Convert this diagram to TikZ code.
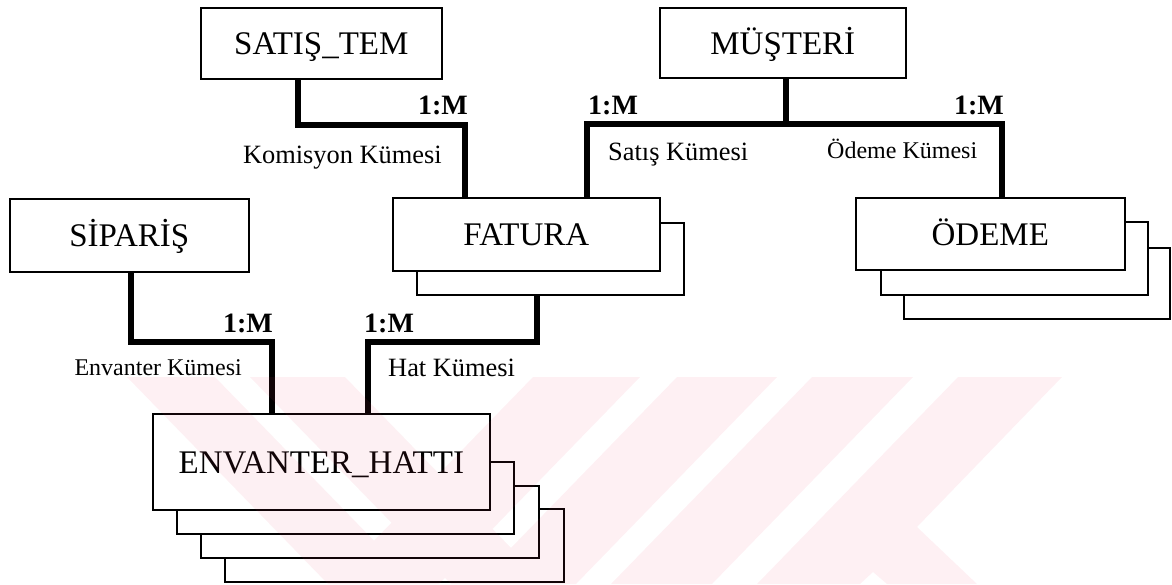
\documentclass[tikz,border=0pt]{standalone}
\usepackage{fontspec}
\setmainfont{Liberation Serif}
\begin{document}
\begin{tikzpicture}[x=1pt,y=-1pt,
  ent/.style={draw, line width=1.6pt, fill=white, rectangle, inner sep=0pt,
    anchor=north west, font=\fontsize{33}{33}\selectfont,
    text height=23pt, text depth=0pt},
  conn/.style={line width=6pt, line join=miter},
  card/.style={font=\bfseries\fontsize{28}{28}\selectfont, inner sep=0pt},
  role/.style={font=\fontsize{26.4}{26}\selectfont, inner sep=0pt},
  rolesmall/.style={font=\fontsize{24}{24}\selectfont, inner sep=0pt},
  wm/.style={fill={rgb,255:red,236;green,60;blue,100}, fill opacity=0.075}
]
\useasboundingbox (0,0) rectangle (1172,584);

% entities
\node[ent, minimum width=241pt, minimum height=71pt] (satis) at (200,7) {SATIŞ\_TEM};
\node[ent, minimum width=246pt, minimum height=70pt] (musteri) at (659,7) {MÜŞTERİ};
\node[ent, minimum width=239pt, minimum height=73pt] (siparis) at (9,198) {SİPARİŞ};

% FATURA stack
\node[ent, minimum width=267pt, minimum height=72pt] (faturaB) at (416,222) {};
\node[ent, minimum width=267pt, minimum height=73pt] (fatura) at (392,197) {FATURA};

% ÖDEME stack
\node[ent, minimum width=266pt, minimum height=71pt] (odemeC) at (903,247) {};
\node[ent, minimum width=267pt, minimum height=73pt] (odemeB) at (880,221) {};
\node[ent, minimum width=269pt, minimum height=72pt] (odeme) at (855,197) {ÖDEME};

% ENVANTER_HATTI stack
\node[ent, minimum width=339pt, minimum height=73pt] (envD) at (224,508) {};
\node[ent, minimum width=338pt, minimum height=72pt] (envC) at (200,485) {};
\node[ent, minimum width=337pt, minimum height=72pt] (envB) at (176,461) {};
\node[ent, minimum width=337pt, minimum height=96pt] (env) at (152,413) {ENVANTER\_HATTI};

% bend points of the relationship lines
\coordinate (k1) at (298,125);
\coordinate (k2) at (465,125);
\coordinate (m0) at (786,124);
\coordinate (m1) at (587,124);
\coordinate (m2) at (1002,124);
\coordinate (s1) at (131,342);
\coordinate (s2) at (272,342);
\coordinate (h1) at (537,342);
\coordinate (h2) at (368,342);

% relationships
\draw[conn] (satis.south -| k1) -- (k1) -- (k2) -- (k2 |- fatura.north);
\draw[conn] (musteri.south -| m0) -- (m0);
\draw[conn] (m1 |- fatura.north) -- (m1) -- (m2) -- (m2 |- odeme.north);
\draw[conn] (siparis.south -| s1) -- (s1) -- (s2) -- (s2 |- env.north);
\draw[conn] (faturaB.south -| h1) -- (h1) -- (h2) -- (h2 |- env.north);

% cardinalities
\node[card, anchor=base east] (c1) at (468,114) {1:M};
\node[card, anchor=base west] (c2) at (588,114) {1:M};
\node[card, anchor=base east] (c3) at (1004,114) {1:M};
\node[card, anchor=base east] (c4) at (273,332) {1:M};
\node[card, anchor=base west] (c5) at (364,332) {1:M};

% role names
\node[role, anchor=base east] (r1) at (442,163) {Komisyon Kümesi};
\node[role, anchor=base west] (r2) at (608,160) {Satış Kümesi};
\node[rolesmall, anchor=base west] (r3) at (827,158) {Ödeme Kümesi};
\node[rolesmall, anchor=base east] (r4) at (242,375) {Envanter Kümesi};
\node[role, anchor=base west] (r5) at (388,376) {Hat Kümesi};

% faint striped emblem in the lower part of the page
\begin{scope}
\clip (0,377) rectangle (1172,584);
\fill[wm]
  (127,377) -- (215,377) -- (416,584) -- (328,584) -- cycle
  (250,377) -- (345,377) -- (546,584) -- (451,584) -- cycle
  (533,377) -- (640,377) -- (439,584) -- (332,584) -- cycle
  (677,377) -- (777,377) -- (576,584) -- (476,584) -- cycle
  (812,377) -- (913,377) -- (712,584) -- (611,584) -- cycle
  (958,377) -- (1062,377) -- (917,527) -- (977,584) -- (887,584)
    -- (873,572) -- (860,584) -- (757,584) -- cycle;
\end{scope}
\end{tikzpicture}
\end{document}
